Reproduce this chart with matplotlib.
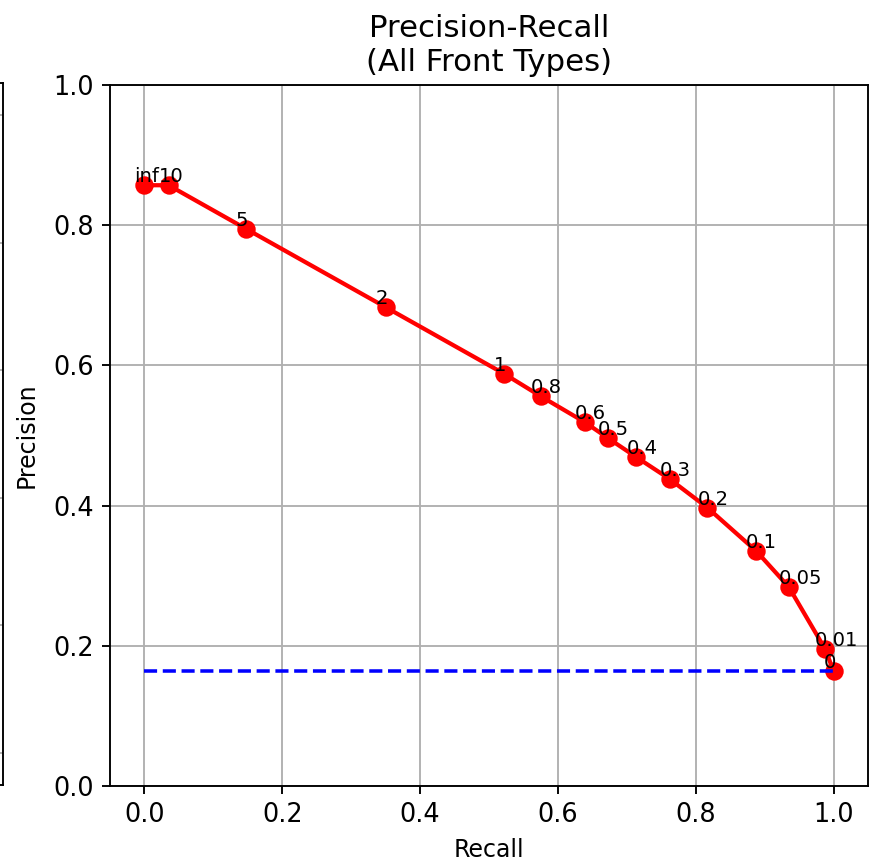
import matplotlib
matplotlib.use("Agg")
import matplotlib.pyplot as plt

# precision / recall for each threshold
thresholds = ["inf", "10", "5", "2", "1", "0.8", "0.6", "0.5", "0.4", "0.3",
              "0.2", "0.1", "0.05", "0.01", "0"]
recall = [0.000, 0.035, 0.147, 0.350, 0.522, 0.575, 0.639, 0.673, 0.714,
          0.762, 0.817, 0.888, 0.935, 0.988, 1.000]
precision = [0.857, 0.857, 0.795, 0.683, 0.588, 0.556, 0.519, 0.496, 0.469,
             0.438, 0.397, 0.335, 0.284, 0.195, 0.164]
baseline = 0.164

fig = plt.figure(figsize=(874 / 170, 862 / 170), dpi=170)

# edge of the neighbouring subplot (cut off by the crop)
ax_prev = fig.add_axes([-0.5, 0.0893, 0.5034, 0.8144])
ax_prev.set_ylim(-0.25, 5.25)
ax_prev.set_yticks(range(6))
ax_prev.set_xticks([])
ax_prev.grid(True)
ax_prev.tick_params(labelleft=False, length=0)

ax = fig.add_axes([0.1259, 0.0882, 0.8672, 0.8132])
ax.plot(recall, precision, "o-", color="red", lw=1.8, ms=6.8)
ax.plot([0, 1], [baseline, baseline], "--", color="blue", lw=1.5)
for t, r, p in zip(thresholds, recall, precision):
    ax.annotate(t, (r, p), textcoords="offset points", xytext=(-4.3, 1.3), fontsize=8.3)

ax.set_ylim(0, 1)
ax.tick_params(labelsize=10.8)
ax.set_xlabel("Recall", fontsize=10)
ax.set_ylabel("Precision", fontsize=10, labelpad=6)
ax.set_title("Precision-Recall\n(All Front Types)", fontsize=13)
ax.grid(True)

fig.savefig("out.png", dpi=170)
